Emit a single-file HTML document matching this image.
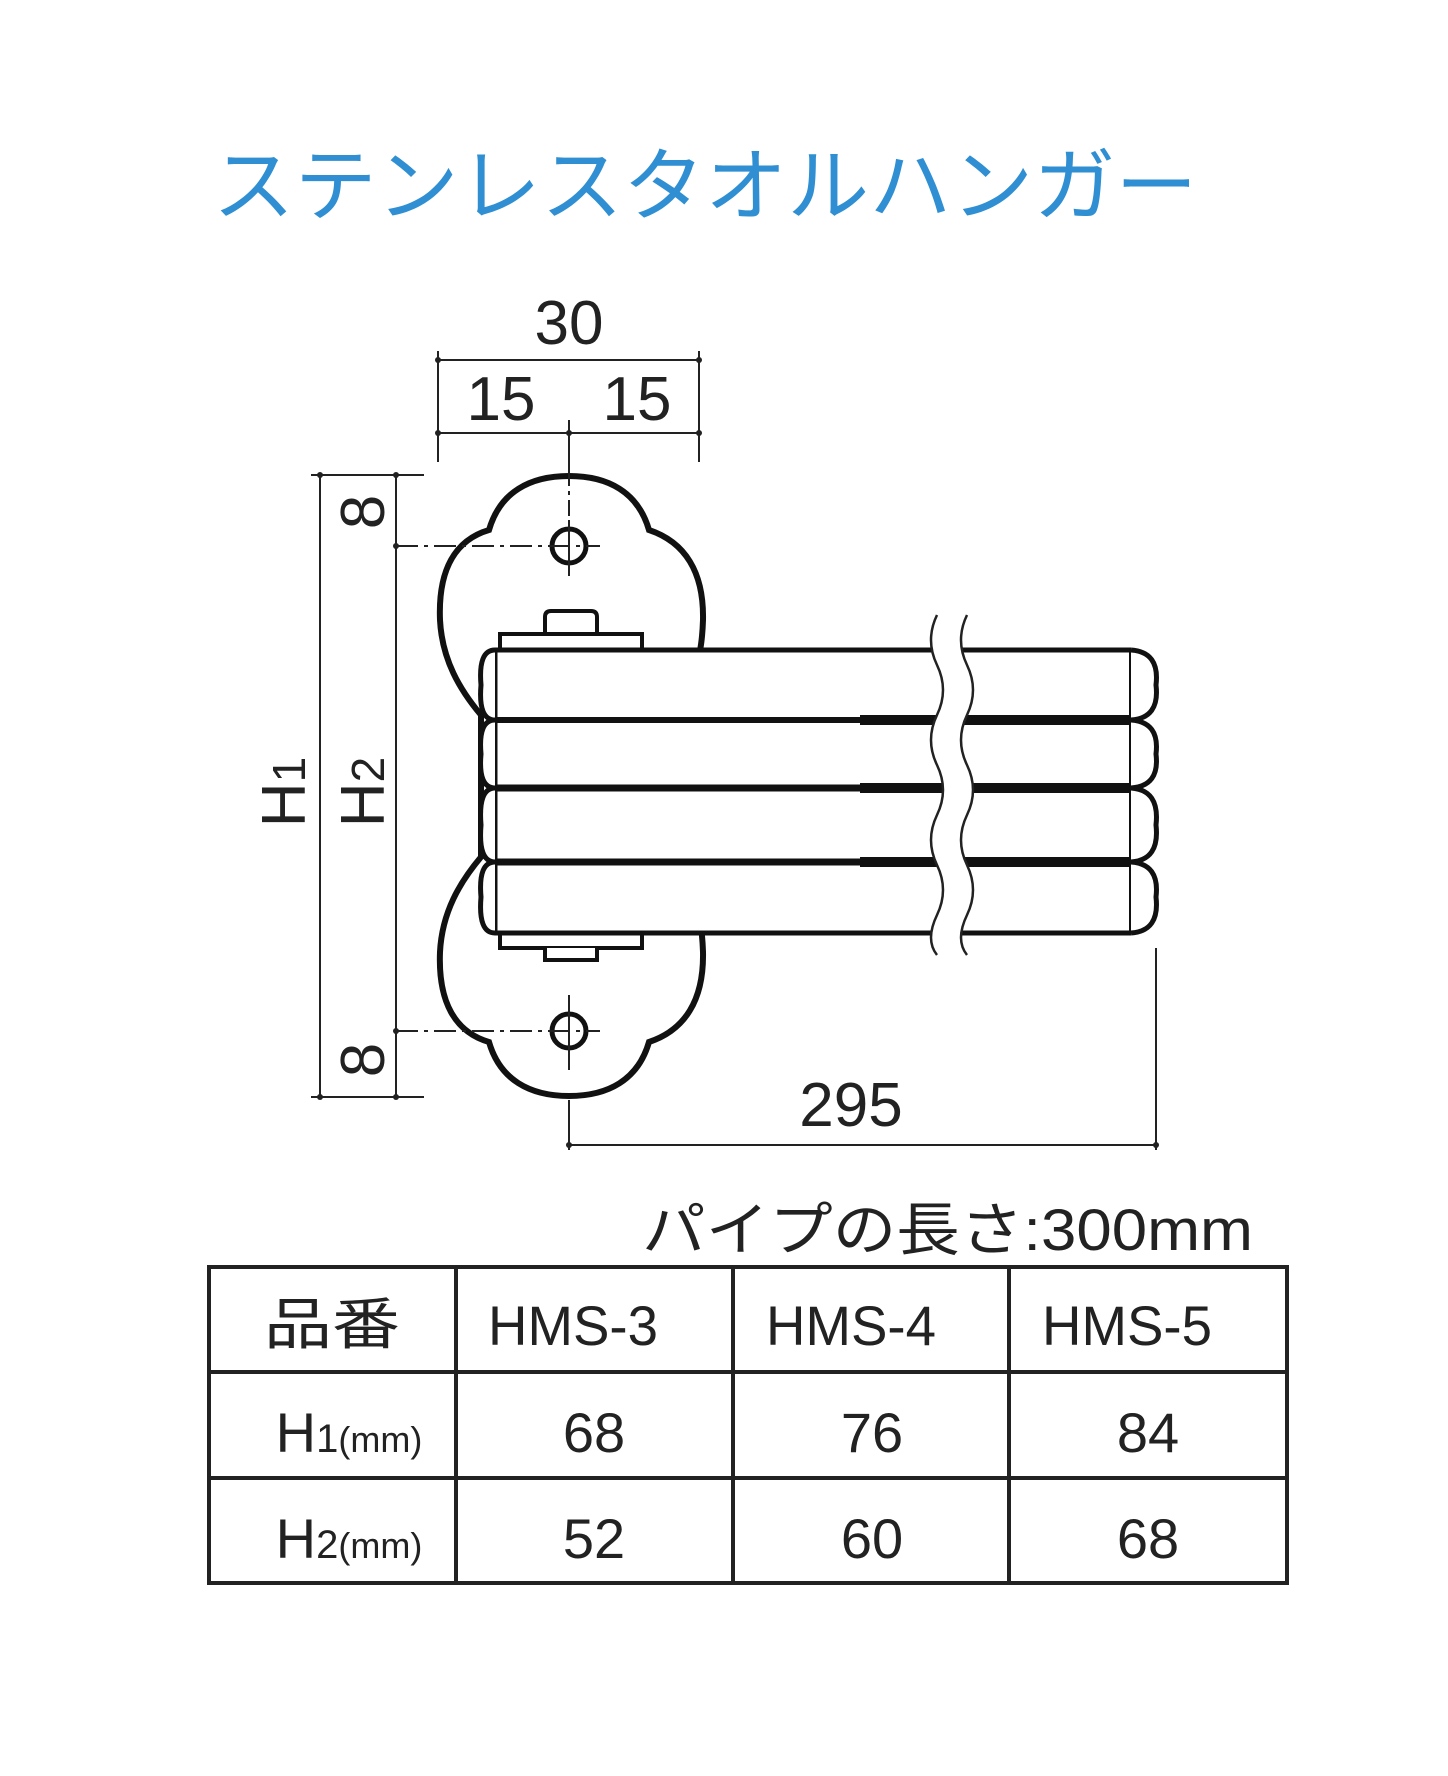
<!DOCTYPE html>
<html><head><meta charset="utf-8"><style>
html,body{margin:0;padding:0;background:#fff;}
svg{display:block;}
text{font-family:"Liberation Sans","Noto Sans CJK JP",sans-serif;}
</style></head><body>
<svg width="1448" height="1776" viewBox="0 0 1448 1776" xmlns="http://www.w3.org/2000/svg">
<rect width="1448" height="1776" fill="#fff"/>
<text x="705" y="214" font-size="80" fill="#2f8fd2" text-anchor="middle" textLength="985" lengthAdjust="spacingAndGlyphs" font-family="Noto Sans CJK JP, sans-serif" font-weight="400">ステンレスタオルハンガー</text>

<g stroke="#222" fill="none" stroke-width="2">
<line x1="438" y1="351" x2="438" y2="462"/>
<line x1="699" y1="351" x2="699" y2="462"/>
<line x1="438" y1="360" x2="699" y2="360"/>
<line x1="438" y1="433" x2="699" y2="433"/>
<line x1="569" y1="420" x2="569" y2="470"/>
<line x1="320" y1="475" x2="320" y2="1097"/>
<line x1="396" y1="475" x2="396" y2="1097"/>
<line x1="311" y1="475" x2="424" y2="475"/>
<line x1="311" y1="1097" x2="424" y2="1097"/>
<line x1="1156" y1="948" x2="1156" y2="1150"/>
<line x1="569" y1="1145" x2="1156" y2="1145"/>
<line x1="569" y1="1100" x2="569" y2="1150"/>
</g>
<g fill="#222">
<circle cx="438" cy="360" r="3"/><circle cx="699" cy="360" r="3"/>
<circle cx="438" cy="433" r="3"/><circle cx="699" cy="433" r="3"/><circle cx="569" cy="433" r="3"/>
<circle cx="320" cy="475" r="3"/><circle cx="396" cy="475" r="3"/>
<circle cx="320" cy="1097" r="3"/><circle cx="396" cy="1097" r="3"/>
<circle cx="396" cy="546" r="3"/><circle cx="396" cy="1031" r="3"/>
<circle cx="569" cy="1145" r="3"/><circle cx="1156" cy="1145" r="3"/>
</g>
<g font-size="62" fill="#222" text-anchor="middle">
<text x="569" y="344">30</text>
<text x="501" y="420">15</text>
<text x="637" y="420">15</text>
<text x="851" y="1126">295</text>
<text transform="translate(384,512) rotate(-90)">8</text>
<text transform="translate(384,1060) rotate(-90)">8</text>
<text transform="translate(305,792) rotate(-90)">H<tspan font-size="46">1</tspan></text>
<text transform="translate(384,792) rotate(-90)">H<tspan font-size="46">2</tspan></text>
</g>

<g stroke="#111" stroke-width="6" fill="#fff">
<path d="M489,530 C500,492 530,476 569,476 C608,476 638,492 649,530 C685,542 704,572 703,620 C702,650 698,660 692,680 L692,892 C698,912 702,922 703,952 C704,1000 685,1030 649,1042 C638,1080 608,1096 569,1096 C530,1096 500,1080 489,1042 C455,1032 438,1002 440,952 C442,912 460,882 481,857 L481,715 C460,690 442,660 440,620 C438,570 455,540 489,530 Z"/>
<circle cx="569" cy="546" r="17" stroke-width="5"/>
<circle cx="569" cy="1031" r="17" stroke-width="5"/>
</g>
<g stroke="#222" stroke-width="2" fill="none">
<line x1="396" y1="546" x2="600" y2="546" stroke-dasharray="22,6,4,6"/>
<line x1="396" y1="1031" x2="600" y2="1031" stroke-dasharray="22,6,4,6"/>
<line x1="569" y1="470" x2="569" y2="580" stroke-dasharray="16,5,4,5"/>
<line x1="569" y1="995" x2="569" y2="1070" stroke-dasharray="16,5,4,5"/>
<line x1="569" y1="520" x2="569" y2="572"/><line x1="569" y1="1005" x2="569" y2="1057"/>
</g>
<g stroke="#111" stroke-width="4" fill="#fff">
<path d="M545,634 L545,617 Q545,611 551,611 L591,611 Q597,611 597,617 L597,634"/>
<rect x="500" y="634" width="142" height="16"/>
<rect x="500" y="933" width="142" height="15"/>
<path d="M545,948 L545,960 L597,960 L597,948"/>
</g>
<g stroke="#111" fill="#fff">
<path d="M495,650 L1131,650 L1131,933 L495,933 Z" stroke="none"/>
<path d="M495,650 L1131,650 M495,933 L1131,933" stroke-width="5"/>
<path d="M495,650 L495,933" stroke-width="5"/>
<path d="M1131,650 L1131,933" stroke-width="4"/>
<path d="M1131,650 Q1160,652 1156,685 Q1160,718 1131,720 Q1160,722 1156,754 Q1160,786 1131,788 Q1160,790 1156,825 Q1160,860 1131,862 Q1160,864 1156,897 Q1160,931 1131,933" stroke-width="5"/>
<path d="M495,650 Q478,650 481,685 Q478,720 495,720 Q478,720 481,754 Q478,788 495,788 Q478,788 481,825 Q478,862 495,862 Q478,862 481,897 Q478,933 495,933" stroke-width="5"/>
</g>
<g stroke="#111">
<path d="M495,720 L1131,720" stroke-width="6"/>
<path d="M495,788 L1131,788" stroke-width="7"/>
<path d="M495,862 L1131,862" stroke-width="7"/>
<path d="M860,720 L1131,720" stroke-width="10"/>
<path d="M860,788 L1131,788" stroke-width="10"/>
<path d="M860,862 L1131,862" stroke-width="10"/>
</g>
<path d="M937,615 Q925,640 937,665 Q949,690 937,715 Q925,740 937,765 Q949,790 937,815 Q925,840 937,865 Q949,890 937,915 Q925,940 937,955 L967,955 Q955,940 967,915 Q979,890 967,865 Q955,840 967,815 Q979,790 967,765 Q955,740 967,715 Q979,690 967,665 Q955,640 967,615 Z" fill="#fff" stroke="none"/>
<g stroke="#222" stroke-width="2.5" fill="none">
<path d="M937,615 Q925,640 937,665 Q949,690 937,715 Q925,740 937,765 Q949,790 937,815 Q925,840 937,865 Q949,890 937,915 Q925,940 937,955"/>
<path d="M967,615 Q955,640 967,665 Q979,690 967,715 Q955,740 967,765 Q979,790 967,815 Q955,840 967,865 Q979,890 967,915 Q955,940 967,955"/>
</g>

<text x="642" y="1250" font-size="58" fill="#222" textLength="611" lengthAdjust="spacingAndGlyphs">パイプの長さ:300mm</text>

<g stroke="#222" stroke-width="4" fill="none">
<rect x="209" y="1267" width="1078" height="316"/>
<line x1="456" y1="1267" x2="456" y2="1583"/>
<line x1="733" y1="1267" x2="733" y2="1583"/>
<line x1="1009" y1="1267" x2="1009" y2="1583"/>
<line x1="209" y1="1372" x2="1287" y2="1372"/>
<line x1="209" y1="1478" x2="1287" y2="1478"/>
</g>
<g font-size="56" fill="#222" text-anchor="middle">
<text x="332" y="1344" textLength="136" lengthAdjust="spacingAndGlyphs">品番</text>
<text x="573" y="1345" textLength="170" lengthAdjust="spacingAndGlyphs">HMS-3</text>
<text x="851" y="1345" textLength="170" lengthAdjust="spacingAndGlyphs">HMS-4</text>
<text x="1127" y="1345" textLength="170" lengthAdjust="spacingAndGlyphs">HMS-5</text>
<text x="349" y="1452">H<tspan font-size="40">1</tspan><tspan font-size="36">(mm)</tspan></text>
<text x="349" y="1558">H<tspan font-size="40">2</tspan><tspan font-size="36">(mm)</tspan></text>
<text x="594" y="1452">68</text>
<text x="872" y="1452">76</text>
<text x="1148" y="1452">84</text>
<text x="594" y="1558">52</text>
<text x="872" y="1558">60</text>
<text x="1148" y="1558">68</text>
</g>
</svg>
</body></html>
